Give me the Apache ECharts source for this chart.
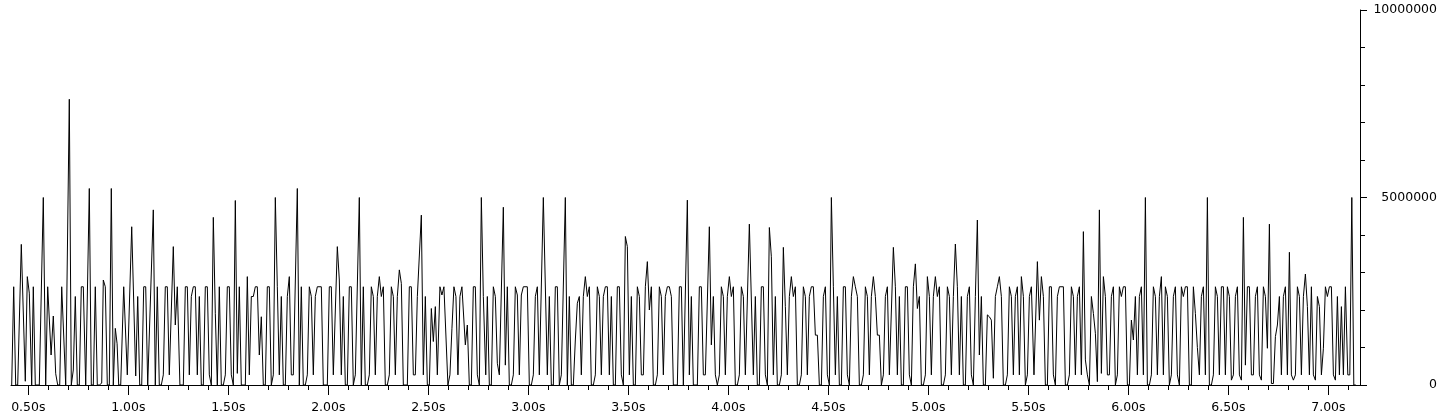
<!DOCTYPE html>
<html>
<head>
<meta charset="utf-8">
<script src="https://cdn.jsdelivr.net/npm/echarts@6/dist/echarts.min.js"></script>
<style>
html,body{margin:0;padding:0;background:#fff;}
#chart{width:1442px;height:420px;}
</style>
</head>
<body>
<div id="chart"></div>
<script>
// time axis range (seconds)
const xMin = 0.4135;
const xMax = 7.158;
// labelled x ticks (seconds)
const xMajorTicks = [0.5,1.0,1.5,2.0,2.5,3.0,3.5,4.0,4.5,5.0,5.5,6.0,6.5,7.0];
// unlabelled x ticks (seconds)
const xMinorTicks = [0.5,0.6,0.7,0.8,0.9,1.0,1.1,1.2,1.3,1.4,1.5,1.6,1.7,1.8,1.9,2.0,2.1,2.2,2.3,2.4,2.5,2.6,2.7,2.8,2.9,3.0,3.1,3.2,3.3,3.4,3.5,3.6,3.7,3.8,3.9,4.0,4.1,4.2,4.3,4.4,4.5,4.6,4.7,4.8,4.9,5.0,5.1,5.2,5.3,5.4,5.5,5.6,5.7,5.8,5.9,6.0,6.1,6.2,6.3,6.4,6.5,6.6,6.7,6.8,6.9,7.0,7.1];
// y axis
const yMin = 0;
const yMax = 10000000;
const yInterval = 5000000;

// series: [time (s), value]
const points = [
[0.417,0],[0.427,2620000],[0.437,0],[0.447,0],[0.465,3750000],[0.485,100000],[0.495,2890000],[0.505,2450000],[0.517,0],[0.525,2620000],[0.535,0],[0.555,0],[0.575,5000000],[0.587,0],[0.597,2620000],[0.614,800000],[0.625,1840000],[0.637,300000],[0.647,0],[0.657,0],[0.667,2620000],[0.675,2620000],[0.687,0],[0.695,0],[0.705,7620000],[0.715,0],[0.725,400000],[0.735,2360000],[0.745,0],[0.755,0],[0.765,2620000],[0.775,2620000],[0.787,0],[0.795,0],[0.805,5240000],[0.815,0],[0.825,0],[0.835,2620000],[0.845,0],[0.855,0],[0.867,50000],[0.875,2800000],[0.885,2620000],[0.895,0],[0.905,0],[0.915,5240000],[0.925,0],[0.935,1510000],[0.944,1100000],[0.952,0],[0.962,0],[0.977,2620000],[0.985,2620000],[0.995,270000],[1.017,4220000],[1.037,240000],[1.047,2360000],[1.057,0],[1.067,0],[1.077,2620000],[1.087,2620000],[1.097,0],[1.105,0],[1.125,4670000],[1.135,0],[1.145,2620000],[1.155,0],[1.165,0],[1.175,270000],[1.185,2620000],[1.195,2620000],[1.205,270000],[1.225,3690000],[1.235,1600000],[1.245,2620000],[1.258,0],[1.275,0],[1.285,2620000],[1.295,2620000],[1.305,270000],[1.315,2360000],[1.325,2620000],[1.335,2620000],[1.345,270000],[1.355,2360000],[1.365,0],[1.375,0],[1.385,2620000],[1.395,2620000],[1.405,270000],[1.415,0],[1.425,4470000],[1.435,1900000],[1.445,0],[1.455,2620000],[1.465,0],[1.475,0],[1.485,270000],[1.495,2620000],[1.505,2620000],[1.515,270000],[1.525,0],[1.535,4920000],[1.545,310000],[1.555,2620000],[1.565,0],[1.585,0],[1.595,2890000],[1.605,270000],[1.615,2360000],[1.625,2360000],[1.635,2620000],[1.645,2620000],[1.655,800000],[1.665,1820000],[1.675,0],[1.685,0],[1.695,2620000],[1.705,2620000],[1.715,0],[1.725,270000],[1.735,5000000],[1.745,2620000],[1.755,270000],[1.765,2360000],[1.775,0],[1.785,0],[1.795,2360000],[1.805,2890000],[1.815,270000],[1.825,270000],[1.845,5240000],[1.855,0],[1.865,2620000],[1.875,0],[1.885,0],[1.895,270000],[1.905,2620000],[1.915,2360000],[1.925,270000],[1.935,2360000],[1.945,2620000],[1.965,2620000],[1.975,0],[1.995,0],[2.005,2620000],[2.015,2620000],[2.025,270000],[2.045,3690000],[2.055,2800000],[2.065,270000],[2.075,2360000],[2.085,0],[2.095,0],[2.105,2620000],[2.115,2620000],[2.125,0],[2.135,270000],[2.155,5000000],[2.165,0],[2.175,2620000],[2.185,0],[2.195,0],[2.205,270000],[2.215,2620000],[2.225,2360000],[2.235,270000],[2.245,2360000],[2.255,2890000],[2.265,2360000],[2.275,2620000],[2.285,0],[2.295,0],[2.305,270000],[2.315,2620000],[2.325,2360000],[2.335,270000],[2.345,2360000],[2.355,3070000],[2.365,2710000],[2.375,0],[2.395,0],[2.405,2620000],[2.415,2620000],[2.425,270000],[2.435,270000],[2.445,2360000],[2.465,4530000],[2.475,270000],[2.485,2360000],[2.495,0],[2.505,0],[2.515,2040000],[2.525,1160000],[2.535,2090000],[2.545,270000],[2.558,2620000],[2.568,2400000],[2.578,2620000],[2.598,0],[2.608,270000],[2.618,1500000],[2.628,2620000],[2.638,2360000],[2.648,270000],[2.658,2360000],[2.668,2620000],[2.675,2620000],[2.685,1070000],[2.695,1600000],[2.705,0],[2.715,0],[2.725,2620000],[2.735,2620000],[2.745,270000],[2.755,0],[2.765,5000000],[2.775,2360000],[2.787,270000],[2.795,2360000],[2.805,0],[2.815,0],[2.825,2620000],[2.835,2360000],[2.845,580000],[2.855,270000],[2.875,4740000],[2.885,530000],[2.895,2620000],[2.905,0],[2.915,0],[2.925,270000],[2.935,2620000],[2.945,2400000],[2.955,270000],[2.965,2400000],[2.975,2620000],[2.995,2620000],[3.005,0],[3.015,0],[3.025,270000],[3.035,2360000],[3.045,2620000],[3.055,270000],[3.075,5000000],[3.095,270000],[3.105,2360000],[3.115,0],[3.125,0],[3.135,2620000],[3.145,2620000],[3.155,0],[3.165,270000],[3.185,5000000],[3.195,0],[3.205,2360000],[3.215,0],[3.225,0],[3.235,1200000],[3.245,2180000],[3.255,2360000],[3.265,270000],[3.275,2360000],[3.285,2890000],[3.295,2360000],[3.305,2620000],[3.315,0],[3.325,0],[3.335,270000],[3.345,2620000],[3.355,2360000],[3.365,270000],[3.375,2360000],[3.385,2620000],[3.395,2620000],[3.405,270000],[3.415,2360000],[3.425,0],[3.435,0],[3.445,2620000],[3.455,2620000],[3.465,270000],[3.475,0],[3.485,3960000],[3.495,3690000],[3.505,270000],[3.515,2360000],[3.525,0],[3.535,0],[3.545,2620000],[3.555,2360000],[3.565,270000],[3.575,270000],[3.585,2620000],[3.595,3290000],[3.605,2000000],[3.615,2620000],[3.625,0],[3.635,0],[3.645,270000],[3.655,2620000],[3.665,2360000],[3.675,270000],[3.685,2360000],[3.695,2620000],[3.705,2620000],[3.715,2360000],[3.725,0],[3.745,0],[3.755,2620000],[3.765,2620000],[3.775,0],[3.795,4930000],[3.805,270000],[3.815,2360000],[3.825,0],[3.845,0],[3.855,2620000],[3.865,2620000],[3.875,270000],[3.885,270000],[3.905,4220000],[3.915,1070000],[3.925,2360000],[3.935,270000],[3.945,0],[3.955,270000],[3.965,2620000],[3.975,2360000],[3.985,270000],[3.995,2360000],[4.005,2890000],[4.015,2360000],[4.025,2620000],[4.035,0],[4.045,0],[4.055,270000],[4.065,2620000],[4.075,2360000],[4.085,270000],[4.105,4290000],[4.125,270000],[4.135,2360000],[4.145,0],[4.155,0],[4.165,2620000],[4.175,2620000],[4.185,270000],[4.195,0],[4.205,4200000],[4.215,3420000],[4.225,270000],[4.235,2360000],[4.245,0],[4.255,0],[4.265,270000],[4.275,3670000],[4.285,2090000],[4.295,270000],[4.305,2360000],[4.315,2890000],[4.325,2360000],[4.335,2620000],[4.345,0],[4.355,0],[4.365,270000],[4.375,2620000],[4.385,2360000],[4.395,270000],[4.405,2360000],[4.415,2620000],[4.425,2620000],[4.435,1330000],[4.445,1330000],[4.455,0],[4.465,0],[4.475,2360000],[4.485,2620000],[4.495,270000],[4.505,0],[4.515,5000000],[4.525,2620000],[4.535,270000],[4.545,2360000],[4.555,0],[4.565,0],[4.575,2620000],[4.585,2620000],[4.595,270000],[4.605,0],[4.615,2360000],[4.625,2890000],[4.635,2620000],[4.645,2360000],[4.655,0],[4.665,0],[4.675,270000],[4.685,2620000],[4.695,2360000],[4.705,270000],[4.715,2360000],[4.725,2890000],[4.735,2360000],[4.745,1330000],[4.755,1330000],[4.765,0],[4.775,270000],[4.785,2360000],[4.795,2620000],[4.805,270000],[4.825,3670000],[4.835,2620000],[4.845,270000],[4.855,2360000],[4.865,0],[4.875,0],[4.885,2620000],[4.895,2620000],[4.905,270000],[4.915,0],[4.925,2620000],[4.935,3230000],[4.945,2040000],[4.955,2360000],[4.965,0],[4.975,0],[4.985,270000],[4.995,2890000],[5.005,2360000],[5.015,270000],[5.025,2360000],[5.035,2890000],[5.045,2360000],[5.055,2620000],[5.065,0],[5.075,0],[5.085,270000],[5.095,2620000],[5.105,2360000],[5.115,270000],[5.125,2360000],[5.135,3760000],[5.145,2620000],[5.155,270000],[5.165,2360000],[5.175,0],[5.185,0],[5.195,2360000],[5.205,2620000],[5.215,270000],[5.225,0],[5.235,2360000],[5.245,4400000],[5.255,800000],[5.265,2360000],[5.275,0],[5.285,0],[5.295,1870000],[5.305,1820000],[5.315,1730000],[5.325,180000],[5.335,2360000],[5.345,2620000],[5.355,2890000],[5.365,2360000],[5.375,0],[5.385,0],[5.395,270000],[5.405,2620000],[5.415,2360000],[5.425,270000],[5.435,2360000],[5.445,2620000],[5.455,270000],[5.465,2890000],[5.475,2360000],[5.485,0],[5.495,270000],[5.505,2360000],[5.515,2620000],[5.528,270000],[5.545,3290000],[5.555,1730000],[5.565,2890000],[5.575,2360000],[5.585,0],[5.595,0],[5.605,2620000],[5.615,2620000],[5.625,270000],[5.635,0],[5.645,2360000],[5.655,2620000],[5.675,2620000],[5.685,0],[5.695,0],[5.705,270000],[5.715,2620000],[5.725,2360000],[5.735,270000],[5.745,2360000],[5.755,2620000],[5.765,270000],[5.775,4090000],[5.785,670000],[5.795,270000],[5.805,0],[5.815,2360000],[5.825,1910000],[5.835,1380000],[5.845,90000],[5.855,4670000],[5.865,310000],[5.875,2890000],[5.885,2360000],[5.895,270000],[5.905,270000],[5.915,2360000],[5.925,2620000],[5.935,0],[5.945,270000],[5.955,2620000],[5.965,2360000],[5.975,2620000],[5.985,2620000],[5.995,0],[6.005,0],[6.015,1730000],[6.025,1200000],[6.035,2360000],[6.045,270000],[6.055,2360000],[6.065,2620000],[6.075,270000],[6.085,5000000],[6.095,0],[6.105,0],[6.115,270000],[6.125,2620000],[6.135,2360000],[6.145,270000],[6.155,2360000],[6.165,2890000],[6.175,270000],[6.185,2620000],[6.195,2360000],[6.205,0],[6.215,270000],[6.225,2360000],[6.235,2620000],[6.245,270000],[6.255,0],[6.265,2620000],[6.275,2360000],[6.285,2620000],[6.295,2620000],[6.305,0],[6.315,0],[6.325,2620000],[6.335,1910000],[6.345,1000000],[6.355,270000],[6.365,2360000],[6.375,2620000],[6.385,270000],[6.395,5000000],[6.405,0],[6.415,0],[6.425,270000],[6.435,2620000],[6.445,2360000],[6.455,270000],[6.465,2620000],[6.475,2620000],[6.485,270000],[6.495,2620000],[6.505,2360000],[6.515,130000],[6.525,270000],[6.535,2360000],[6.545,2620000],[6.555,270000],[6.565,130000],[6.575,4470000],[6.585,530000],[6.595,2620000],[6.605,2620000],[6.615,270000],[6.625,270000],[6.635,2360000],[6.645,2620000],[6.655,270000],[6.665,130000],[6.675,2620000],[6.685,2360000],[6.695,980000],[6.705,4290000],[6.715,40000],[6.725,40000],[6.735,1290000],[6.745,1600000],[6.755,2360000],[6.765,270000],[6.775,2360000],[6.785,2620000],[6.795,270000],[6.805,3540000],[6.815,270000],[6.825,130000],[6.835,270000],[6.845,2620000],[6.855,2360000],[6.865,270000],[6.875,2360000],[6.885,2960000],[6.895,2090000],[6.905,270000],[6.915,2620000],[6.925,270000],[6.935,130000],[6.945,2360000],[6.955,2090000],[6.965,270000],[6.975,980000],[6.985,2620000],[6.995,2360000],[7.005,2620000],[7.015,2620000],[7.025,270000],[7.035,130000],[7.045,2360000],[7.055,270000],[7.065,2090000],[7.075,270000],[7.085,2620000],[7.097,270000],[7.107,270000],[7.117,5000000],[7.127,0],[7.137,0]
];

const FONT = 'DejaVu Sans';
const chart = echarts.init(document.getElementById('chart'), null, {renderer: 'canvas'});
chart.setOption({
  animation: false,
  backgroundColor: '#ffffff',
  grid: {left: 11, right: 82, top: 10, bottom: 35, containLabel: false},
  xAxis: [
    {
      type: 'value', min: xMin, max: xMax, position: 'bottom',
      splitLine: {show: false},
      axisLine: {show: true, lineStyle: {color: '#000', width: 1}},
      axisTick: {show: true, length: 10, lineStyle: {color: '#000'}, customValues: xMajorTicks},
      axisLabel: {show: true, customValues: xMajorTicks, margin: 16, color: '#000', fontFamily: FONT, fontSize: 12.5,
        formatter: v => v.toFixed(2) + 's'}
    },
    {
      type: 'value', min: xMin, max: xMax, position: 'bottom', offset: 0,
      splitLine: {show: false},
      axisLine: {show: false},
      axisTick: {show: true, length: 5, lineStyle: {color: '#000'}, customValues: xMinorTicks},
      axisLabel: {show: false}
    }
  ],
  yAxis: {
    type: 'value', min: yMin, max: yMax, interval: yInterval, position: 'right',
    splitLine: {show: false},
    axisLine: {show: true, lineStyle: {color: '#000', width: 1}},
    axisTick: {show: true, length: 7, lineStyle: {color: '#000'}},
    minorTick: {show: true, splitNumber: 5, length: 5, lineStyle: {color: '#000'}},
    axisLabel: {show: true, align: 'right', margin: 77, color: '#000', fontFamily: FONT, fontSize: 12.5,
      formatter: v => String(v)}
  },
  series: [{
    type: 'line', xAxisIndex: 0, yAxisIndex: 0,
    data: points,
    showSymbol: false, symbol: 'none',
    lineStyle: {color: '#000', width: 1}
  }]
});
</script>
</body>
</html>
